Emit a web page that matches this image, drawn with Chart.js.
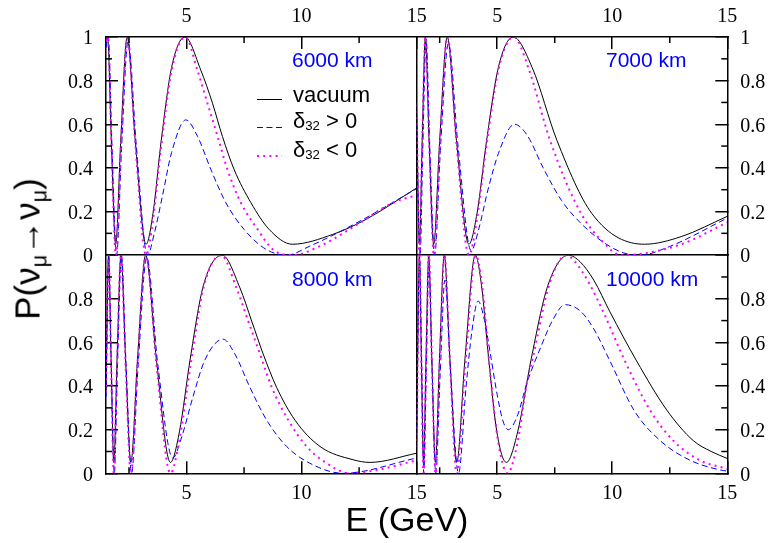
<!DOCTYPE html>
<html>
<head>
<meta charset="utf-8">
<script src="https://cdn.jsdelivr.net/npm/chart.js@4.4.1/dist/chart.umd.min.js"></script>
<style>
html,body{margin:0;padding:0;background:#fff;}
#wrap{position:relative;width:771px;height:543px;overflow:hidden;background:#fff;}
#c{position:absolute;left:0;top:0;}
.t{position:absolute;white-space:nowrap;font-family:"Liberation Sans",Arial,sans-serif;line-height:1;color:#000;}
.pl{color:#0000ff;font-size:21px;}
.lg{font-size:22px;}
.sb{position:relative;font-size:0.6em;top:0.18em;}
.ysb{position:relative;font-size:0.62em;top:0.3em;}
</style>
</head>
<body>
<div id="wrap">
<canvas id="c" width="771" height="543"></canvas>
<div class="t pl" style="left:292px;top:49px;">6000 km</div>
<div class="t pl" style="left:606px;top:49px;">7000 km</div>
<div class="t pl" style="left:292px;top:268px;">8000 km</div>
<div class="t pl" style="left:606px;top:268px;">10000 km</div>
<div class="t lg" style="left:293px;top:84px;">vacuum</div>
<div class="t lg" style="left:293px;top:109.5px;">δ<span class="sb">32</span> &gt; 0</div>
<div class="t lg" style="left:293px;top:139px;">δ<span class="sb">32</span> &lt; 0</div>
<div class="t" style="font-size:35px;left:27px;top:249px;transform:translate(-50%,-50%) rotate(-90deg);">P(ν<span class="ysb">μ</span>→ν<span class="ysb">μ</span>)</div>
<div class="t" style="font-size:34px;left:407px;top:502px;transform:translateX(-50%);">E (GeV)</div>
</div>
<script>
// ---- tick values ----
const xMajor = [5, 10, 15];
const xMinor = [2.5, 7.5, 12.5];
const yMajor = [0, 0.2, 0.4, 0.6, 0.8, 1];
const yMinor = [0.1, 0.3, 0.5, 0.7, 0.9];

// ---- L = 6000 km ----
const vac6000E = [1.5, 1.57, 1.73, 1.92, 2.14, 2.42, 2.77, 3.24, 3.54, 3.90, 4.35, 4.93, 5.62, 6.13, 6.56, 7.07, 7.8, 8.59, 9.6, 11.35, 12.8, 15];
const vac6000P = [0.97, 1, 0.525, 0.05, 0.525, 1, 0.525, 0.05, 0.19, 0.525, 0.86, 1, 0.848, 0.696, 0.544, 0.392, 0.24, 0.118, 0.05, 0.095, 0.164, 0.308];
const pos6000E = [1.5, 1.6, 1.76, 1.96, 2.18, 2.46, 2.82, 3.30, 3.6, 3.95, 4.35, 4.97, 5.48, 6.06, 6.71, 7.5, 8.45, 9.35, 10.33, 12.36, 15];
const pos6000P = [0.95, 1, 0.5, 0, 0.5, 0.98, 0.5, 0, 0.1, 0.27, 0.47, 0.62, 0.544, 0.392, 0.24, 0.118, 0.027, 0, 0.04, 0.146, 0.305];
const neg6000E = [1.5, 1.58, 1.74, 1.93, 2.15, 2.43, 2.78, 3.24, 3.54, 3.90, 4.36, 4.95, 5.47, 5.91, 6.35, 6.78, 7.36, 8.09, 8.74, 9.6, 10.77, 12.5, 13.96, 15];
const neg6000P = [0.98, 1, 0.5, 0, 0.5, 1, 0.5, 0, 0.16, 0.5, 0.85, 1, 0.848, 0.696, 0.544, 0.392, 0.24, 0.118, 0.027, 0, 0.04, 0.146, 0.24, 0.275];

// ---- L = 7000 km ----
const vac7000E = [1.5, 1.62, 1.74, 1.88, 2.04, 2.24, 2.50, 2.83, 3.23, 3.77, 4.12, 4.54, 5.05, 5.70, 6.52, 7.60, 9.12, 11.4, 13.0, 15];
const vac7000P = [0.67, 0.05, 0.525, 1, 0.525, 0.05, 0.525, 1, 0.525, 0.05, 0.19, 0.525, 0.86, 1, 0.86, 0.525, 0.19, 0.05, 0.085, 0.178];
const pos7000E = [1.5, 1.65, 1.77, 1.91, 2.07, 2.28, 2.54, 2.88, 3.30, 3.87, 4.2, 4.6, 5.1, 5.75, 6.3, 7.0, 7.8, 8.6, 9.6, 10.5, 11.2, 12.5, 15];
const pos7000P = [0.6, 0, 0.5, 0.99, 0.5, 0, 0.5, 0.97, 0.5, 0.02, 0.12, 0.3, 0.48, 0.60, 0.55, 0.40, 0.25, 0.15, 0.06, 0.01, 0, 0.04, 0.17];
const neg7000E = [1.5, 1.62, 1.74, 1.88, 2.05, 2.25, 2.51, 2.84, 3.24, 3.77, 4.1, 4.53, 5.08, 5.72, 6.35, 7.3, 8.65, 9.6, 10.4, 11.2, 13.0, 15];
const neg7000P = [0.69, 0, 0.5, 1, 0.5, 0, 0.5, 1, 0.5, 0, 0.15, 0.5, 0.86, 1, 0.86, 0.525, 0.19, 0.06, 0, 0.005, 0.05, 0.15];

// ---- L = 8000 km ----
const vac8000E = [1.5, 1.61, 1.72, 1.84, 1.98, 2.15, 2.35, 2.58, 2.87, 3.225, 3.685, 4.30, 4.69, 5.16, 5.73, 6.55, 7.32, 7.83, 8.33, 8.91, 9.71, 10.8, 12.24, 12.97, 15];
const vac8000P = [0.38, 1, 0.525, 0.05, 0.525, 1, 0.525, 0.05, 0.525, 1, 0.525, 0.05, 0.19, 0.525, 0.86, 1, 0.85, 0.698, 0.547, 0.395, 0.244, 0.123, 0.062, 0.05, 0.092];
const pos8000E = [1.5, 1.62, 1.73, 1.86, 2.0, 2.17, 2.37, 2.61, 2.9, 3.27, 3.75, 4.40, 4.8, 5.25, 5.8, 6.59, 7.1, 7.75, 8.48, 9.35, 10.36, 11.8, 15];
const pos8000P = [0.35, 1, 0.5, 0, 0.5, 1, 0.5, 0, 0.5, 0.99, 0.5, 0.07, 0.17, 0.34, 0.52, 0.615, 0.547, 0.395, 0.244, 0.123, 0.046, 0, 0.07];
const neg8000E = [1.5, 1.61, 1.72, 1.84, 1.98, 2.15, 2.35, 2.58, 2.87, 3.23, 3.69, 4.30, 4.70, 5.18, 5.76, 6.5, 7.17, 7.68, 8.19, 8.7, 9.42, 10.22, 11.09, 12.1, 13.5, 15];
const neg8000P = [0.37, 1, 0.5, 0, 0.5, 1, 0.5, 0, 0.5, 1, 0.5, 0, 0.16, 0.5, 0.86, 1, 0.85, 0.698, 0.547, 0.395, 0.244, 0.123, 0.046, 0, 0.02, 0.06];

// ---- L = 10000 km ----
const vac10000E = [1.5, 1.62, 1.705, 1.80, 1.906, 2.025, 2.16, 2.314, 2.492, 2.70, 2.946, 3.24, 3.60, 4.05, 4.32, 4.63, 4.985, 5.40, 5.89, 6.48, 7.20, 8.10, 8.6, 9.2, 9.9, 11.06, 12.37, 13.52, 14.3, 15];
const vac10000P = [0.14, 1, 0.525, 0.05, 0.525, 1, 0.525, 0.05, 0.525, 1, 0.525, 0.05, 0.525, 1, 0.86, 0.525, 0.19, 0.05, 0.19, 0.525, 0.86, 1, 0.97, 0.885, 0.74, 0.515, 0.29, 0.15, 0.10, 0.068];
const pos10000E = [1.5, 1.63, 1.72, 1.81, 1.92, 2.03, 2.17, 2.33, 2.52, 2.73, 2.98, 3.32, 3.65, 3.9, 4.17, 4.45, 4.7, 5.0, 5.25, 5.48, 5.9, 6.28, 6.9, 7.4, 7.95, 8.6, 9.17, 9.9, 10.95, 12.07, 13.38, 14.7, 15];
const pos10000P = [0.2, 0.98, 0.5, 0, 0.48, 0.95, 0.48, 0, 0.45, 0.886, 0.45, 0, 0.4, 0.65, 0.79, 0.70, 0.55, 0.36, 0.24, 0.20, 0.27, 0.41, 0.58, 0.70, 0.773, 0.745, 0.667, 0.515, 0.288, 0.151, 0.06, 0.015, 0.01];
const neg10000E = [1.5, 1.62, 1.705, 1.80, 1.91, 2.03, 2.165, 2.32, 2.50, 2.71, 2.95, 3.24, 3.62, 4.07, 4.35, 4.66, 5.02, 5.45, 5.9, 6.28, 6.55, 7.25, 8.0, 8.38, 9.0, 9.61, 10.55, 11.64, 12.65, 13.8, 15];
const neg10000P = [0.12, 1, 0.5, 0, 0.5, 1, 0.5, 0, 0.5, 1, 0.5, 0, 0.5, 1, 0.86, 0.5, 0.16, 0, 0.15, 0.41, 0.53, 0.86, 1, 0.97, 0.87, 0.74, 0.515, 0.29, 0.15, 0.06, 0.02];

const seriesNames = ['vacuum', 'δ32 > 0', 'δ32 < 0'];

// ---- styles ----
const styles = [
  {borderColor: '#000000', borderWidth: 1, borderDash: [], order: 2},
  {borderColor: '#0000ff', borderWidth: 1, borderDash: [6, 3.5], order: 1},
  {borderColor: '#ff00ff', borderWidth: 2, borderDash: [2, 4.2], order: 0}
];

const panels = [
  {x: 'xTL', y: 'yLT', E: [vac6000E, pos6000E, neg6000E], P: [vac6000P, pos6000P, neg6000P]},
  {x: 'xTR', y: 'yRT', E: [vac7000E, pos7000E, neg7000E], P: [vac7000P, pos7000P, neg7000P]},
  {x: 'xBL', y: 'yLB', E: [vac8000E, pos8000E, neg8000E], P: [vac8000P, pos8000P, neg8000P]},
  {x: 'xBR', y: 'yRB', E: [vac10000E, pos10000E, neg10000E], P: [vac10000P, pos10000P, neg10000P]}
];

const datasets = [];
panels.forEach(p => {
  for (let k = 0; k < 3; k++) {
    datasets.push(Object.assign({
      label: seriesNames[k],
      data: p.E[k].map((e, i) => ({x: e, y: p.P[k][i]})),
      xAxisID: p.x, yAxisID: p.y,
      pointRadius: 0, fill: false,
      cubicInterpolationMode: 'monotone',
      borderCapStyle: 'butt'
    }, styles[k]));
  }
});

const AX = '#000';
const LEFT_W = 106, RIGHT_W = 43.7, TOP_H = 34, BOTTOM_H = 69.7;
const TICK = 12, MINOR = 6;
const tickFont = {family: '"Liberation Serif", "Times New Roman", serif', size: 20};

function fmt(v) { return String(Math.round(v * 10) / 10); }

function xAxis(pos, stack, divider) {
  return {
    type: 'linear', position: pos, stack: stack, stackWeight: 1,
    min: 1.5, max: 15,
    afterBuildTicks: s => { s.ticks = xMajor.map(v => ({value: v})); },
    afterFit: s => { s.height = pos === 'top' ? TOP_H : BOTTOM_H; },
    grid: {
      drawOnChartArea: divider,
      color: c => (divider && c.tick && c.tick.value === 15) ? AX : 'rgba(0,0,0,0)',
      lineWidth: 1.5, tickLength: -TICK, tickColor: AX, tickWidth: 1.5
    },
    border: {display: true, color: AX, width: 1.5},
    ticks: {font: tickFont, color: AX, padding: 20.5, autoSkip: false, maxRotation: 0, minRotation: 0,
      callback: v => fmt(v)}
  };
}
function yAxis(pos, stack, isBottom) {
  return {
    type: 'linear', position: pos, stack: stack, stackWeight: 1,
    min: 0, max: 1,
    afterBuildTicks: s => { s.ticks = yMajor.map(v => ({value: v})); },
    afterFit: s => { s.width = pos === 'left' ? LEFT_W : RIGHT_W; },
    grid: {
      drawOnChartArea: isBottom && pos === 'left',
      color: c => (isBottom && pos === 'left' && c.tick && c.tick.value === 1) ? AX : 'rgba(0,0,0,0)',
      lineWidth: 1.5, tickLength: -TICK, tickColor: AX, tickWidth: 1.5
    },
    border: {display: true, color: AX, width: 1.5},
    ticks: {font: tickFont, color: AX, padding: 25, autoSkip: false, labelOffset: 2,
      callback: v => (isBottom && v === 1) ? '' : fmt(v)}
  };
}

const minorTicks = {
  id: 'minorTicks',
  afterDraw(chart) {
    const ctx = chart.ctx;
    ctx.save();
    ctx.strokeStyle = AX;
    ctx.lineWidth = 1.5;
    ['yLT', 'yLB', 'yRT', 'yRB', 'xTL', 'xTR', 'xBL', 'xBR'].forEach(id => {
      const s = chart.scales[id];
      const vals = s.isHorizontal() ? xMinor : yMinor;
      vals.forEach(v => {
        const p = s.getPixelForValue(v);
        ctx.beginPath();
        if (s.position === 'left') { ctx.moveTo(s.right, p); ctx.lineTo(s.right + MINOR, p); }
        else if (s.position === 'right') { ctx.moveTo(s.left, p); ctx.lineTo(s.left - MINOR, p); }
        else if (s.position === 'top') { ctx.moveTo(p, s.bottom); ctx.lineTo(p, s.bottom + MINOR); }
        else { ctx.moveTo(p, s.top); ctx.lineTo(p, s.top - MINOR); }
        ctx.stroke();
      });
    });
    // legend samples (top-left panel)
    const a = chart.chartArea;
    const x0 = a.left + 151, x1 = a.left + 176;
    const rows = [a.top + 62.5, a.top + 90.5, a.top + 119];
    rows.forEach((y, k) => {
      const st = styles[k];
      ctx.beginPath();
      ctx.strokeStyle = st.borderColor;
      ctx.lineWidth = st.borderWidth;
      ctx.setLineDash(st.borderDash);
      ctx.moveTo(x0, y); ctx.lineTo(x1, y);
      ctx.stroke();
    });
    ctx.restore();
  }
};

// Chart.js places left/top stacked boxes in reverse definition order,
// so the right/bottom member of those stacks is listed first.
new Chart(document.getElementById('c'), {
  type: 'line',
  data: {datasets: datasets},
  options: {
    responsive: false,
    animation: false,
    events: [],
    layout: {padding: 0},
    plugins: {legend: {display: false}, tooltip: {enabled: false}, title: {display: false}},
    scales: {
      xTR: xAxis('top', 'T', false),
      xTL: xAxis('top', 'T', false),
      xBL: xAxis('bottom', 'B', true),
      xBR: xAxis('bottom', 'B', false),
      yLB: yAxis('left', 'L', true),
      yLT: yAxis('left', 'L', false),
      yRT: yAxis('right', 'R', false),
      yRB: yAxis('right', 'R', true)
    }
  },
  plugins: [minorTicks]
});
</script>
</body>
</html>
